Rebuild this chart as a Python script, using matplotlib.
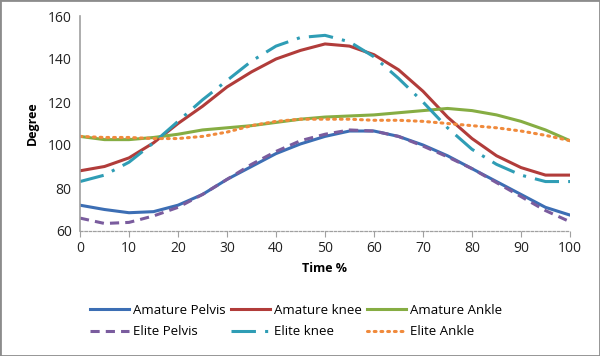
import matplotlib
matplotlib.use("Agg")
import matplotlib.pyplot as plt
from matplotlib.patches import Rectangle

t = [0, 5, 10, 15, 20, 25, 30, 35, 40, 45, 50, 55, 60, 65, 70, 75, 80, 85, 90, 95, 100]
amature_pelvis = [72, 70, 68.5, 69, 72, 77, 84, 90, 96, 100.5, 104, 106.5, 106.5, 104, 100, 95, 89, 83, 77, 71, 67.4]
elite_pelvis = [66, 63.5, 64, 67, 71, 77, 84, 91, 97, 102, 105, 107, 106.5, 104, 99.5, 94.5, 89, 82.5, 76, 69.5, 64.3]
amature_knee = [88, 90, 94, 101, 110, 118, 127, 134, 140, 144, 147, 146, 142, 135, 125, 113, 103, 95, 89.5, 86, 86]
elite_knee = [83, 86, 92, 101, 111, 121, 130, 139, 146, 150, 151, 148, 141, 131, 120, 108, 98, 91, 86, 83, 83]
amature_ankle = [104, 102.5, 102.5, 103.5, 105, 107, 108, 109, 110.5, 112, 113, 113.5, 114, 115, 116, 117, 116, 114, 111, 107, 102]
elite_ankle = [104, 103.5, 103.5, 103, 103, 104, 106, 109, 111, 112, 112, 112, 111.5, 111.5, 111, 110, 109, 108, 106.5, 104.5, 102]
labels = ["Amature Pelvis", "Amature knee", "Amature Ankle", "Elite Pelvis", "Elite knee", "Elite Ankle"]

plt.rcParams['font.family'] = ['Open Sans', 'DejaVu Sans']
fig = plt.figure(figsize=(6.0, 3.56), dpi=100)
ax = fig.add_axes([80/600, 1-231/356, 490/600, 215/356])

lw = 2.2
h_ap, = ax.plot(t, amature_pelvis, color="#3C6EB4", lw=lw, label=labels[0])
h_ak, = ax.plot(t, amature_knee, color="#B13C3A", lw=lw, label=labels[1])
h_aa, = ax.plot(t, amature_ankle, color="#86AD43", lw=lw, label=labels[2])
h_ep, = ax.plot(t, elite_pelvis, color="#7A5C9E", lw=lw, ls=(0, (3, 2)), label=labels[3])
h_ek, = ax.plot(t, elite_knee, color="#2F9DB5", lw=lw, ls=(0, (8, 3, 1, 3)), label=labels[4])
h_ea, = ax.plot(t, elite_ankle, color="#F08A3C", lw=lw, ls=(0, (0.6, 1.6)), dash_capstyle='round', label=labels[5])

ax.set_xlim(0, 100)
ax.set_ylim(60, 160)
ax.set_xticks(range(0, 101, 10))
ax.set_yticks(range(60, 161, 20))
for s in ["top", "right"]:
    ax.spines[s].set_visible(False)
ax.spines["left"].set_color("#A0A0A0")
ax.spines["left"].set_linewidth(1.2)
ax.spines["bottom"].set_color("#A0A0A0")
ax.spines["bottom"].set_linestyle((0, (2, 1.5)))
ax.spines["bottom"].set_linewidth(0.9)
ax.tick_params(axis="y", length=0, labelsize=10, pad=6, colors="#222222")
ax.tick_params(axis="x", length=4, direction="out", color="#A0A0A0", labelsize=10, colors="#222222")
ax.set_xlabel("Time %", fontsize=9, fontweight="bold", labelpad=4)
ax.set_ylabel("Degree", fontsize=9, fontweight="bold", labelpad=6)

handles = [h_ap, h_ep, h_ak, h_ek, h_aa, h_ea]
fig.legend(handles, [h.get_label() for h in handles], ncol=3, loc="lower left",
           bbox_to_anchor=(78/600, 6/356), frameon=False, fontsize=9.5,
           handlelength=3.0, handletextpad=0.25, columnspacing=0.4, labelspacing=0.65)

fig.patches.append(Rectangle((0, 0), 1, 1, transform=fig.transFigure, fill=False,
                             edgecolor="#8C8C8C", lw=2))
fig.savefig("out.png", dpi=100)
